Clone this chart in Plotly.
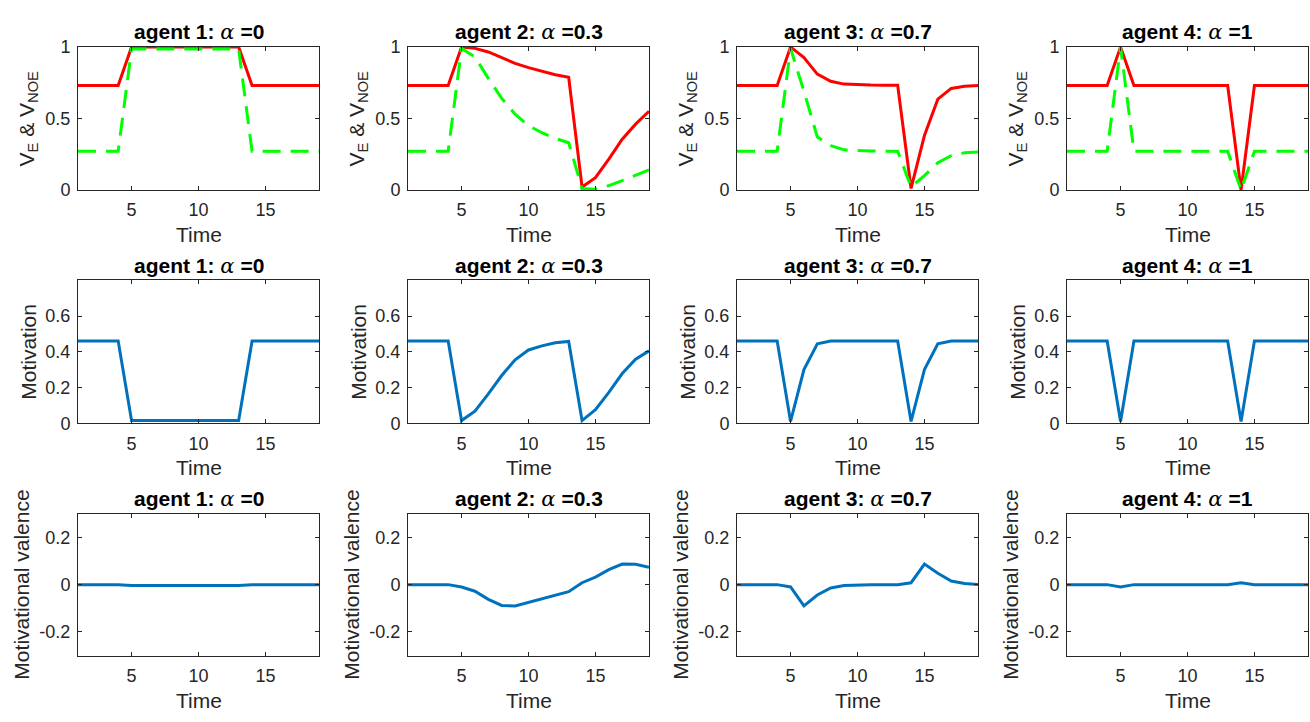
import plotly.graph_objects as go

# ---------------- data ----------------
time = [1, 2, 3, 4, 5, 6, 7, 8, 9, 10, 11, 12, 13, 14, 15, 16, 17, 18, 19]
agent_names = ["agent 1", "agent 2", "agent 3", "agent 4"]
alpha_labels = ["0", "0.3", "0.7", "1"]

ve_agent1 = [0.73, 0.73, 0.73, 0.73, 1.0, 1.0, 1.0, 1.0, 1.0, 1.0, 1.0, 1.0, 1.0, 0.73, 0.73, 0.73, 0.73, 0.73, 0.73]
ve_agent2 = [0.73, 0.73, 0.73, 0.73, 1.0, 0.99, 0.965, 0.925, 0.885, 0.855, 0.83, 0.805, 0.788, 0.02, 0.085, 0.215, 0.355, 0.46, 0.55]
ve_agent3 = [0.73, 0.73, 0.73, 0.73, 1.0, 0.925, 0.81, 0.76, 0.74, 0.735, 0.733, 0.732, 0.732, 0.01, 0.38, 0.635, 0.71, 0.725, 0.73]
ve_agent4 = [0.73, 0.73, 0.73, 0.73, 1.0, 0.73, 0.73, 0.73, 0.73, 0.73, 0.73, 0.73, 0.73, 0.0, 0.73, 0.73, 0.73, 0.73, 0.73]

vnoe_agent1 = [0.27, 0.27, 0.27, 0.27, 0.985, 0.985, 0.985, 0.985, 0.985, 0.985, 0.985, 0.985, 0.985, 0.27, 0.27, 0.27, 0.27, 0.27, 0.27]
vnoe_agent2 = [0.27, 0.27, 0.27, 0.27, 0.99, 0.93, 0.78, 0.64, 0.53, 0.45, 0.40, 0.36, 0.33, 0.01, 0.005, 0.03, 0.065, 0.10, 0.14]
vnoe_agent3 = [0.27, 0.27, 0.27, 0.27, 0.99, 0.69, 0.37, 0.31, 0.28, 0.275, 0.272, 0.271, 0.27, 0.02, 0.10, 0.19, 0.24, 0.26, 0.265]
vnoe_agent4 = [0.27, 0.27, 0.27, 0.27, 1.0, 0.27, 0.27, 0.27, 0.27, 0.27, 0.27, 0.27, 0.27, 0.0, 0.27, 0.27, 0.27, 0.27, 0.27]

motiv_agent1 = [0.46, 0.46, 0.46, 0.46, 0.015, 0.015, 0.015, 0.015, 0.015, 0.015, 0.015, 0.015, 0.015, 0.46, 0.46, 0.46, 0.46, 0.46, 0.46]
motiv_agent2 = [0.46, 0.46, 0.46, 0.46, 0.015, 0.067, 0.164, 0.267, 0.355, 0.41, 0.433, 0.45, 0.458, 0.015, 0.076, 0.173, 0.278, 0.358, 0.405]
motiv_agent3 = [0.46, 0.46, 0.46, 0.46, 0.01, 0.30, 0.445, 0.46, 0.46, 0.46, 0.46, 0.46, 0.46, 0.01, 0.30, 0.445, 0.46, 0.46, 0.46]
motiv_agent4 = [0.46, 0.46, 0.46, 0.46, 0.01, 0.46, 0.46, 0.46, 0.46, 0.46, 0.46, 0.46, 0.46, 0.01, 0.46, 0.46, 0.46, 0.46, 0.46]

val_agent1 = [0.0, 0.0, 0.0, 0.0, -0.004, -0.004, -0.004, -0.004, -0.004, -0.004, -0.004, -0.004, -0.004, 0.0, 0.0, 0.0, 0.0, 0.0, 0.0]
val_agent2 = [0.0, 0.0, 0.0, 0.0, -0.01, -0.028, -0.062, -0.088, -0.09, -0.075, -0.058, -0.044, -0.03, 0.008, 0.032, 0.063, 0.087, 0.086, 0.073]
val_agent3 = [0.0, 0.0, 0.0, 0.0, -0.01, -0.09, -0.044, -0.014, -0.004, -0.001, 0.0, 0.0, 0.0, 0.008, 0.087, 0.048, 0.015, 0.005, 0.001]
val_agent4 = [0.0, 0.0, 0.0, 0.0, -0.01, 0.0, 0.0, 0.0, 0.0, 0.0, 0.0, 0.0, 0.0, 0.008, 0.0, 0.0, 0.0, 0.0, 0.0]

ve_all = [ve_agent1, ve_agent2, ve_agent3, ve_agent4]
vnoe_all = [vnoe_agent1, vnoe_agent2, vnoe_agent3, vnoe_agent4]
motiv_all = [motiv_agent1, motiv_agent2, motiv_agent3, motiv_agent4]
val_all = [val_agent1, val_agent2, val_agent3, val_agent4]

x_ticks = [5, 10, 15]
row_yticks = [[0, 0.5, 1], [0, 0.2, 0.4, 0.6], [-0.2, 0, 0.2]]
row_ytext = [["0", "0.5", "1"], ["0", "0.2", "0.4", "0.6"], ["-0.2", "0", "0.2"]]
row_yrange = [[0, 1], [0, 0.8], [-0.3, 0.3]]
row_ytitle = ["V<sub>E</sub> &amp; V<sub>NOE</sub>", "Motivation", "Motivational valence"]

# ---------------- layout geometry ----------------
W, H = 1310, 722
col_px = [(78, 319), (408, 649), (737, 978), (1067, 1308)]
row_px = [(38, 185), (278, 425), (518, 664)]
ytitle_offset = [50, 49, 56]

FONT = "Liberation Sans, Arial, Helvetica, sans-serif"
AXC = "#262626"

fig = go.Figure()
annotations = []
layout_axes = {}

for r in range(3):
    for c in range(4):
        idx = r * 4 + c + 1
        xa = "x" if idx == 1 else f"x{idx}"
        ya = "y" if idx == 1 else f"y{idx}"
        if r == 0:
            fig.add_trace(go.Scatter(x=time, y=ve_all[c], mode="lines", xaxis=xa, yaxis=ya,
                                     line=dict(color="#FF0000", width=3), showlegend=False))
            fig.add_trace(go.Scatter(x=time, y=vnoe_all[c], mode="lines", xaxis=xa, yaxis=ya,
                                     line=dict(color="#00FF00", width=3, dash="18px,10px"), showlegend=False))
        elif r == 1:
            fig.add_trace(go.Scatter(x=time, y=motiv_all[c], mode="lines", xaxis=xa, yaxis=ya,
                                     line=dict(color="#0072BD", width=3), showlegend=False))
        else:
            fig.add_trace(go.Scatter(x=time, y=val_all[c], mode="lines", xaxis=xa, yaxis=ya,
                                     line=dict(color="#0072BD", width=3), showlegend=False))

        x0, x1 = col_px[c]
        t0, t1 = row_px[r]
        xname = "xaxis" if idx == 1 else f"xaxis{idx}"
        yname = "yaxis" if idx == 1 else f"yaxis{idx}"
        layout_axes[xname] = dict(
            domain=[x0 / W, x1 / W], anchor=ya, range=[1, 19],
            tickmode="array", tickvals=x_ticks, ticktext=[str(v) for v in x_ticks],
            showline=True, mirror="ticks", linecolor=AXC, linewidth=1,
            ticks="inside", ticklen=4, tickcolor=AXC, tickwidth=1,
            showgrid=False, zeroline=False, ticklabelstandoff=4,
            tickfont=dict(family=FONT, size=18, color="#262626"),
        )
        layout_axes[yname] = dict(
            domain=[1 - t1 / H, 1 - t0 / H], anchor=xa, range=row_yrange[r],
            tickmode="array", tickvals=row_yticks[r], ticktext=row_ytext[r],
            showline=True, mirror="ticks", linecolor=AXC, linewidth=1,
            ticks="inside", ticklen=4, tickcolor=AXC, tickwidth=1,
            showgrid=False, zeroline=False, ticklabelstandoff=3,
            tickfont=dict(family=FONT, size=18, color="#262626"),
        )
        cx = (x0 + x1) / 2 / W
        # subplot title
        annotations.append(dict(
            x=cx, y=1 - (t0 - 15) / H, xref="paper", yref="paper",
            xanchor="center", yanchor="middle", showarrow=False,
            text=(f"<b>{agent_names[c]}: </b><span style=\"font-family:'DejaVu Serif', serif\"><i>α</i></span>"
                  f"<b> ={alpha_labels[c]}</b>"),
            font=dict(family=FONT, size=21, color="#000000"),
        ))
        # x title
        annotations.append(dict(
            x=cx, y=1 - (t1 + 46) / H, xref="paper", yref="paper",
            xanchor="center", yanchor="middle", showarrow=False,
            text="Time", font=dict(family=FONT, size=21, color="#262626"),
        ))
        # y title
        annotations.append(dict(
            x=(x0 - ytitle_offset[r]) / W, y=1 - (t0 + t1) / 2 / H, xref="paper", yref="paper",
            xanchor="center", yanchor="middle", showarrow=False, textangle=-90,
            text=row_ytitle[r], font=dict(family=FONT, size=21, color="#262626"),
        ))

fig.update_layout(
    width=W, height=H, margin=dict(l=0, r=0, t=0, b=0),
    paper_bgcolor="white", plot_bgcolor="white",
    annotations=annotations, **layout_axes,
)

fig.write_html("out.html", post_script="document.body.style.margin='0';document.body.style.overflow='hidden';")
